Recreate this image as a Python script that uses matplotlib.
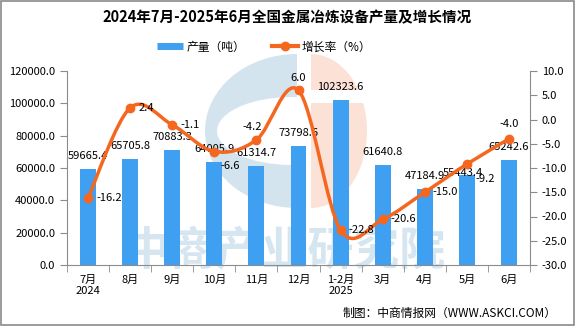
import matplotlib
matplotlib.use('Agg')
from matplotlib import pyplot as plt
from matplotlib.path import Path
from matplotlib.patches import PathPatch, Ellipse, Rectangle
from matplotlib.lines import Line2D
import numpy as np

plt.rcParams['font.family'] = ['Noto Sans CJK SC', 'DejaVu Sans']

months = ['7月\n2024', '8月', '9月', '10月', '11月', '12月', '1-2月\n2025', '3月', '4月', '5月', '6月']
output = [59665.4, 65705.8, 70883.3, 64005.9, 61314.7, 73798.6, 102323.6, 61640.8, 47184.9, 55443.4, 65242.6]
growth = [-16.2, 2.4, -1.1, -6.6, -4.2, 6.0, -22.8, -20.6, -15.0, -9.2, -4.0]

# label offsets in pixels
bar_off = [(0, 13)] * 9 + [(-4, 2), (0, 13)]
line_off = [(8, 0), (8, 0), (8, 0), (16, -14), (-4, 13), (0, 12), (8, 0), (8, 0), (8, 0), (18, -15), (0, 15)]

blue = '#3f9ff0'
orange = '#f5671f'
gray = '#8c8c8c'
fs = 8

fig = plt.figure(figsize=(5.75, 3.26), dpi=100)

# background watermark
bg = fig.add_axes([0, 0, 1, 1], zorder=0)
bg.set_xlim(0, 575)
bg.set_ylim(326, 0)
bg.axis('off')
left_clip = Rectangle((190, 40), 107, 190, transform=bg.transData)
right_clip = Rectangle((311, 40), 80, 190, transform=bg.transData)
e1 = Ellipse((297, 131), 184, 154, color='#d3e4ef', lw=0)
bg.add_patch(e1)
e1.set_clip_path(left_clip)
e2 = Ellipse((292, 131), 150, 68, color='white', lw=0)
bg.add_patch(e2)
e2.set_clip_path(left_clip)
e3 = Ellipse((311, 131), 112, 154, color='#fbe1d6', lw=0)
bg.add_patch(e3)
e3.set_clip_path(right_clip)
bg.add_patch(Rectangle((311, 90), 60, 13, color='white', lw=0))
bg.text(285, 252, '中商产业研究院', ha='center', va='center', fontsize=33,
        fontweight='bold', color='#d6e6f0')

ax = fig.add_axes([67 / 575, 1 - 265 / 326, (530 - 67) / 575, (265 - 71) / 326])
ax.set_zorder(1)
ax.patch.set_visible(False)
x = np.arange(len(months))
ax.bar(x, output, width=0.38, color=blue, zorder=2)
ax.set_xlim(-0.5, len(months) - 0.5)
ax.set_ylim(0, 120000)
ax.set_yticks(np.arange(0, 120001, 20000))
ax.set_yticklabels([f'{v:.1f}' for v in np.arange(0, 120001, 20000)], fontsize=fs)
ax.set_xticks(x)
ax.set_xticklabels(months, fontsize=fs)
ax.set_xticks(np.arange(-0.5, len(months), 1), minor=True)
ax.tick_params(axis='x', which='major', length=0, pad=7)
ax.tick_params(axis='x', which='minor', length=5, color=gray)
ax.tick_params(axis='y', length=5, color=gray)
for s in ['top', 'right']:
    ax.spines[s].set_visible(False)
for s in ['left', 'bottom']:
    ax.spines[s].set_color(gray)

for i, v in enumerate(output):
    ax.annotate(f'{v:.1f}', (x[i], v), xytext=bar_off[i], textcoords='offset pixels',
                ha='center', va='center', fontsize=fs, zorder=5)

ax2 = ax.twinx()
ax2.set_zorder(2)
ax2.patch.set_visible(False)
ax2.set_ylim(-30, 10)
ax2.set_yticks(np.arange(-30, 11, 5))
ax2.set_yticklabels([f'{v:.1f}' for v in np.arange(-30, 11, 5)], fontsize=fs)
ax2.tick_params(axis='y', length=5, color=gray)
for s in ['top', 'left', 'bottom']:
    ax2.spines[s].set_visible(False)
ax2.spines['right'].set_color(gray)

# smooth line (catmull-rom as bezier)
pts = np.column_stack([x, growth]).astype(float)
verts = [pts[0]]
codes = [Path.MOVETO]
n = len(pts)
for i in range(n - 1):
    p0 = pts[max(i - 1, 0)]
    p1 = pts[i]
    p2 = pts[i + 1]
    p3 = pts[min(i + 2, n - 1)]
    verts += [p1 + (p2 - p0) / 6, p2 - (p3 - p1) / 6, p2]
    codes += [Path.CURVE4] * 3
ax2.add_patch(PathPatch(Path(verts, codes), fill=False, edgecolor=orange, lw=2.5, zorder=3))
ax2.plot(x, growth, 'o', color=orange, ms=6, zorder=4)
for i, v in enumerate(growth):
    ha = 'left' if line_off[i][0] == 8 else 'center'
    ax2.annotate(f'{v:.1f}', (x[i], v), xytext=line_off[i], textcoords='offset pixels',
                 ha=ha, va='center', fontsize=fs, zorder=5)

fig.text(0.5, 1 - 17 / 326, '2024年7月-2025年6月全国金属冶炼设备产量及增长情况',
         ha='center', va='center', fontsize=10.5, fontweight='bold')
handles = [Line2D([], [], color=blue, lw=5, solid_capstyle='butt'),
           Line2D([], [], color=orange, lw=3, marker='o', ms=6)]
fig.legend(handles, ['产量（吨）', '增长率（%）'], loc='center', bbox_to_anchor=(264 / 575, 1 - 47 / 326),
           ncol=2, frameon=False, fontsize=8.5, handlelength=2.2, columnspacing=2.2, handletextpad=0.35)
fig.text(557 / 575, 1 - 313 / 326, '制图：中商情报网（WWW.ASKCI.COM）', ha='right', va='center', fontsize=8.5)
fig.add_artist(Rectangle((0.001, 0.002), 0.997, 0.995, transform=fig.transFigure,
                         fill=False, edgecolor='#8a8a8a', lw=1.2))

fig.savefig('out.png', dpi=100)
